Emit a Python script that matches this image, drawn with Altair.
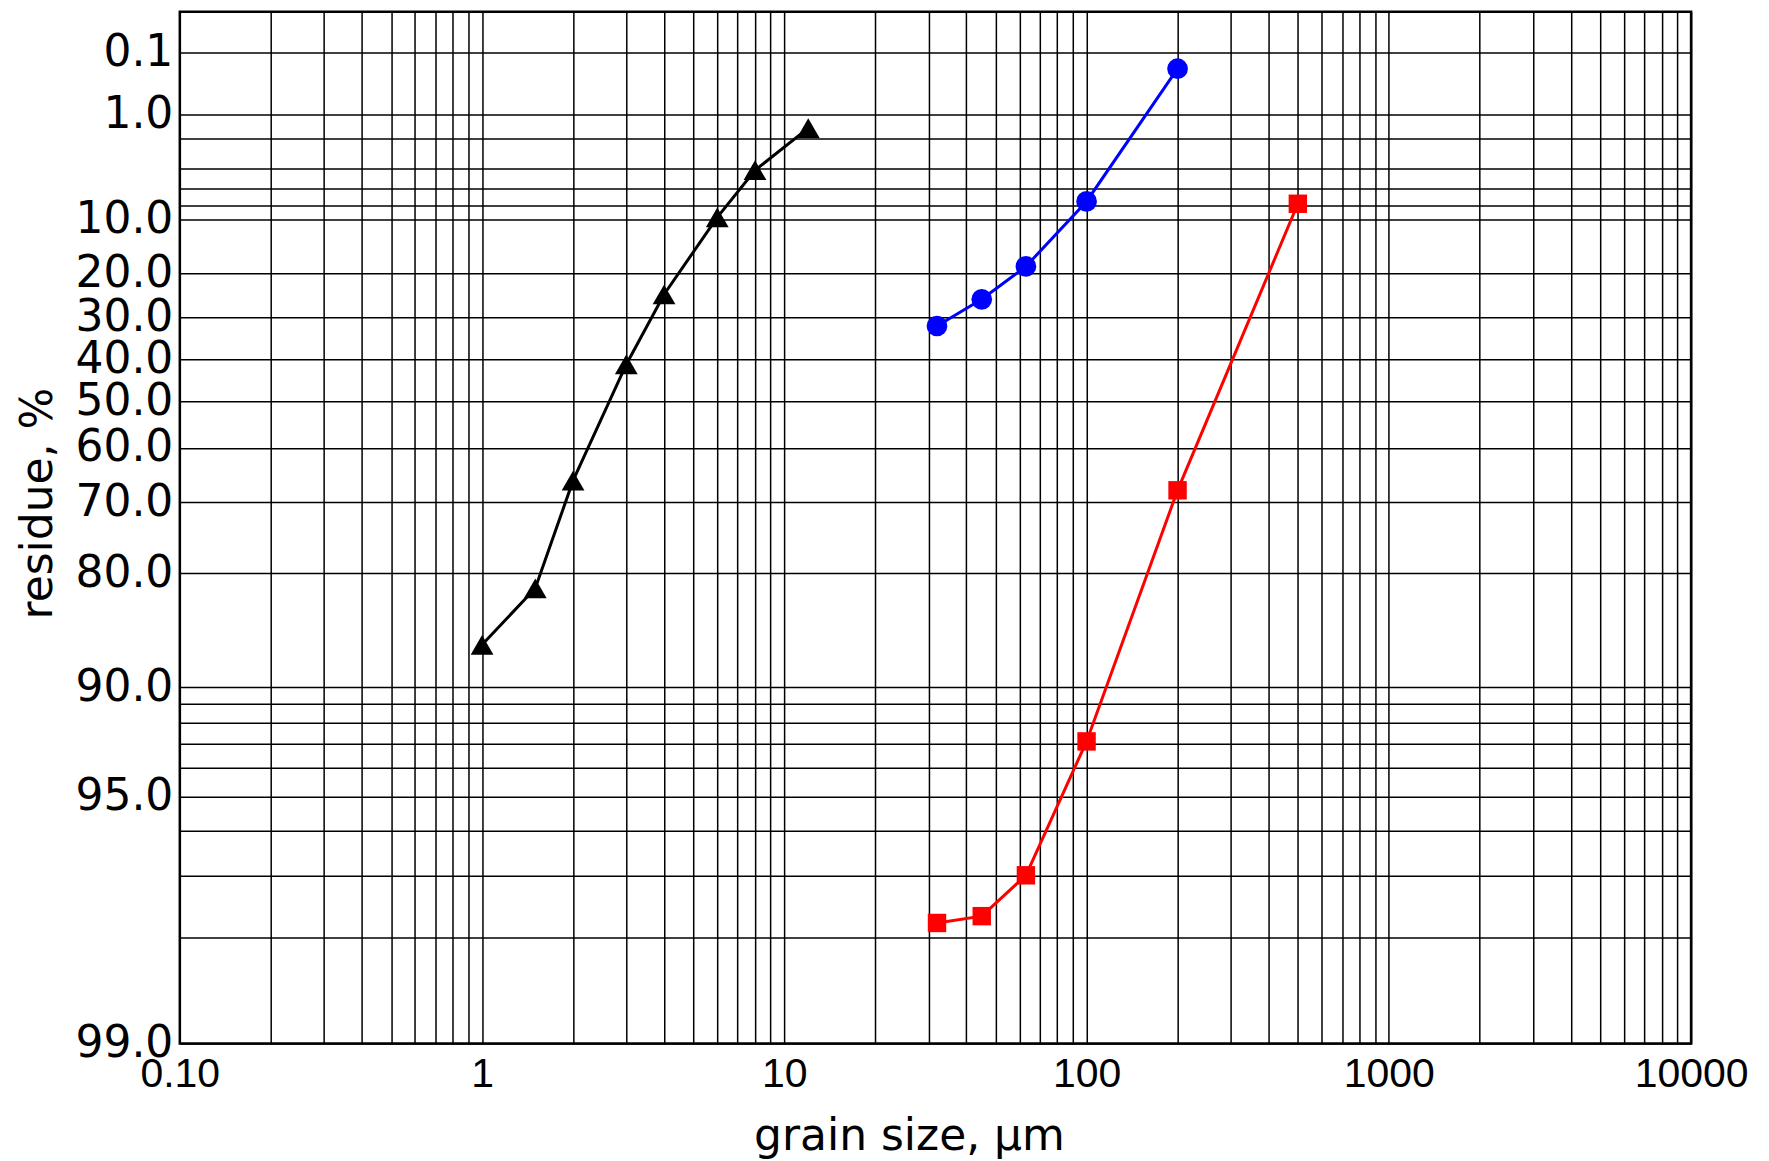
import math
import altair as alt
import pandas as pd

# ---- data (grain size in µm, residue in %) ----
black_size = [1, 1.5, 2, 3, 4, 6, 8, 12]
black_res = [87.0, 81.7, 66.3, 41.3, 24.6, 9.7, 4.15, 1.5]

blue_size = [32, 45, 63, 100, 200]
blue_res = [32.0, 25.7, 18.5, 7.5, 0.2]

red_size = [32, 45, 63, 100, 200, 500]
red_res = [97.8, 97.7, 97.0, 92.9, 68.0, 7.8]

series_names = ["black", "blue", "red"]
series_colors = ["#000000", "#0000ff", "#ff0000"]
series_shapes = ["triangle-up", "circle", "square"]

# axis grid / labels (RRSB paper)
y_grid_residue = [0.1, 1, 2, 4, 6, 8, 10, 20, 30, 40, 50, 60, 70, 80, 90,
                  91, 92, 93, 94, 95, 96, 97, 98, 99]
y_label_residue = [0.1, 1, 10, 20, 30, 40, 50, 60, 70, 80, 90, 95, 99]
y_domain_residue = [99, 0.0117]
x_label_values = [0.1, 1, 10, 100, 1000, 10000]
x_grid = [round(m * 10 ** e, 6) for e in range(-1, 4) for m in range(1, 10)] + [10000]


def rrsb(r):
    return math.log10(math.log(100.0 / r))


rows = []
for name, xs, rs in [("black", black_size, black_res),
                     ("blue", blue_size, blue_res),
                     ("red", red_size, red_res)]:
    for x, r in zip(xs, rs):
        rows.append({"series": name, "size": x, "residue": r})
df = pd.DataFrame(rows)

y_vals = [rrsb(r) for r in y_grid_residue]
y_dom = [rrsb(r) for r in y_domain_residue]

inv = "100/exp(pow(10, datum.value))"
y_label_expr = (
    "indexof([" + ",".join(str(v) for v in y_label_residue) + "], round(" + inv + "*10)/10) >= 0 ? "
    "format(" + inv + ", '.1f') : ''"
)
x_label_expr = (
    "indexof([" + ",".join(str(v) for v in x_label_values) + "], datum.value) >= 0 ? "
    "(datum.value < 1 ? format(datum.value, '.2f') : format(datum.value, 'd')) : ''"
)

x_enc = alt.X(
    "size:Q",
    scale=alt.Scale(type="log", domain=[0.1, 10000], nice=False),
    axis=alt.Axis(
        values=x_grid,
        labelExpr=x_label_expr,
        grid=True, gridColor="black", gridWidth=1.5, gridOpacity=1,
        ticks=False, domain=False,
        labelFont="Liberation Sans", labelFontSize=41, labelColor="black",
        labelPadding=11, labelFlush=False, labelOverlap=False,
        title="grain size, µm", titleFont="DejaVu Sans", titleFontSize=44,
        titleFontWeight="normal", titleColor="black",
        titleX=730, titleY=106, titleAlign="center", titleBaseline="alphabetic",
    ),
)
y_enc = alt.Y(
    "t:Q",
    scale=alt.Scale(domain=y_dom, nice=False, zero=False),
    axis=alt.Axis(
        values=y_vals,
        labelExpr=y_label_expr,
        grid=True, gridColor="black", gridWidth=1.5, gridOpacity=1,
        ticks=False, domain=False,
        labelFont="DejaVu Sans", labelFontSize=44, labelColor="black",
        labelPadding=7, labelFlush=False, labelOverlap=False,
        title="residue, %", titleFont="DejaVu Sans", titleFontSize=44,
        titleFontWeight="normal", titleColor="black",
        titleX=-128, titleY=492, titleAlign="center", titleBaseline="alphabetic",
    ),
)

color_enc = alt.Color("series:N", scale=alt.Scale(domain=series_names, range=series_colors), legend=None)

base = alt.Chart(df).transform_calculate(t="log(log(100/datum.residue))/LN10")

lines = base.mark_line(strokeWidth=3).encode(
    x=x_enc, y=y_enc, color=color_enc, detail="series:N", order="size:Q"
)
points = base.mark_point(filled=True, opacity=1).encode(
    x=x_enc, y=y_enc, color=color_enc,
    shape=alt.Shape("series:N", scale=alt.Scale(domain=series_names, range=series_shapes), legend=None),
    size=alt.Size("series:N", scale=alt.Scale(domain=series_names, range=[520, 340, 430]), legend=None),
)

chart = (
    alt.layer(lines, points)
    .properties(
        width=1513, height=1033,
        autosize=alt.AutoSizeParams(type="none"),
        padding={"left": 172, "top": 3, "right": 70, "bottom": 116},
        background="white",
    )
    .configure_view(stroke="black", strokeWidth=2.5)
)

chart.save("out.html", embed_options={"renderer": "svg", "actions": False})
